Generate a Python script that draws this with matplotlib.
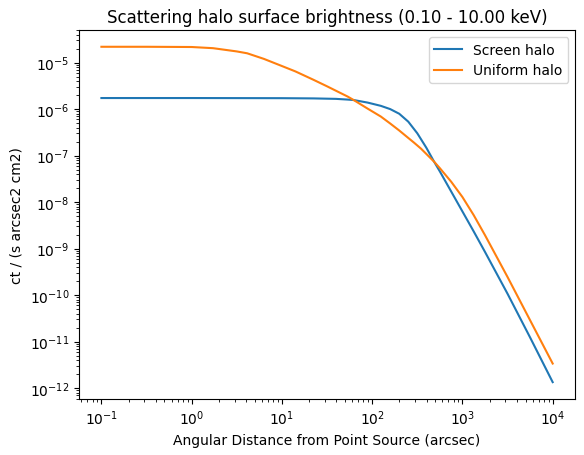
import numpy as np
import matplotlib
matplotlib.use('Agg')
import matplotlib.pyplot as plt

# log10 of angular distance (arcsec) and log10 of surface brightness,
# read off the reference picture

# Screen halo
screen_logtheta = [-1.0, 0.0, 1.0, 1.35, 1.6, 1.728, 1.795, 1.95, 2.096, 2.2, 2.3, 2.4,
                   2.5, 2.6, 2.686, 2.75, 2.875, 3.0, 3.125, 3.25, 3.5, 3.75, 4.0]
screen_logsb = [-5.762, -5.762, -5.765, -5.77, -5.78, -5.795, -5.805, -5.86, -5.93, -6.00, -6.10, -6.27,
                -6.52, -6.83, -7.13, -7.34, -7.77, -8.20, -8.63, -9.07, -9.97, -10.91, -11.87]

# Uniform halo
uniform_logtheta = [-1.0, -0.5, 0.0, 0.236, 0.5, 0.615, 0.8, 0.982, 1.15, 1.35, 1.5, 1.728,
                    1.795, 1.95, 2.096, 2.2, 2.3, 2.4, 2.463, 2.541, 2.686, 2.75, 2.875, 3.0,
                    3.125, 3.25, 3.5, 3.75, 4.0]
uniform_logsb = [-4.66, -4.66, -4.665, -4.69, -4.76, -4.80, -4.92, -5.06, -5.19, -5.37, -5.51, -5.73,
                 -5.805, -5.99, -6.16, -6.31, -6.46, -6.62, -6.72, -6.85, -7.13, -7.27, -7.56, -7.89,
                 -8.28, -8.71, -9.61, -10.54, -11.47]

fig = plt.figure(figsize=(5.84, 4.56), dpi=100)
ax = fig.add_subplot(111)
fig.subplots_adjust(left=0.135, right=0.985, top=0.932, bottom=0.123)

ax.plot(10 ** np.array(screen_logtheta), 10 ** np.array(screen_logsb), label='Screen halo')
ax.plot(10 ** np.array(uniform_logtheta), 10 ** np.array(uniform_logsb), label='Uniform halo')
ax.set_xscale('log')
ax.set_yscale('log')
ax.set_xlabel('Angular Distance from Point Source (arcsec)')
ax.set_ylabel('ct / (s arcsec2 cm2)')
ax.set_title('Scattering halo surface brightness (0.10 - 10.00 keV)')
ax.legend(loc='upper right')

fig.savefig('out.png', dpi=100)
